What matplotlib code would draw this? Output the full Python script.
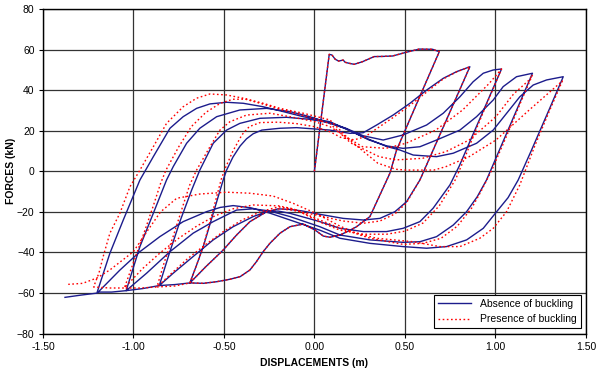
import matplotlib
matplotlib.use("Agg")
import matplotlib.pyplot as plt

plt.rcParams["font.family"] = ["Liberation Sans", "DejaVu Sans"]

# ---- Absence of buckling (blue), branch by branch ----
b_init_x = [0.0, 0.082, 0.097, 0.115, 0.134, 0.159, 0.17, 0.192, 0.22, 0.266, 0.33, 0.38, 0.432, 0.506, 0.579, 0.653, 0.69]
b_init_f = [0.0, 57.6, 57.3, 55.2, 54.3, 54.8, 53.7, 53.2, 52.7, 54.0, 56.5, 56.6, 56.8, 58.6, 60.2, 60.1, 58.9]

b_u1_x = [0.69, 0.62, 0.55, 0.49, 0.454, 0.417, 0.36, 0.307, 0.233, 0.18, 0.141, 0.086, 0.049, 0.003, -0.062, -0.135, -0.19, -0.246, -0.283, -0.32, -0.356, -0.41, -0.467, -0.54, -0.614, -0.688]
b_u1_f = [58.9, 44.6, 30.2, 17.8, 10.4, -1.0, -12.0, -22.3, -27.3, -29.8, -31.4, -32.5, -31.9, -28.9, -26.0, -27.3, -30.5, -35.5, -39.6, -44.5, -48.6, -51.9, -53.2, -54.4, -55.2, -55.0]

b_l2_x = [-0.688, -0.65, -0.614, -0.559, -0.504, -0.485, -0.45, -0.41, -0.375, -0.338, -0.29, -0.19, -0.098, 0.012, 0.086, 0.196, 0.27, 0.344, 0.435, 0.528, 0.62, 0.712, 0.786, 0.859]
b_l2_f = [-55.0, -46.0, -37.1, -20.7, -4.3, 0.6, 7.0, 12.5, 16.0, 18.5, 20.3, 21.2, 21.5, 20.8, 20.3, 18.7, 19.0, 22.8, 27.7, 33.5, 40.0, 45.8, 49.1, 51.5]

b_u2_x = [0.859, 0.80, 0.73, 0.656, 0.583, 0.509, 0.445, 0.362, 0.27, 0.159, 0.03, -0.07, -0.135, -0.2, -0.264, -0.356, -0.43, -0.504, -0.6, -0.688, -0.77, -0.857]
b_u2_f = [51.5, 39.6, 25.4, 10.4, -4.3, -15.0, -19.9, -23.2, -24.0, -23.2, -21.2, -19.5, -18.8, -18.5, -19.9, -24.8, -31.4, -38.8, -47.0, -55.0, -55.8, -56.3]

b_l3_x = [-0.857, -0.8, -0.74, -0.678, -0.633, -0.559, -0.485, -0.412, -0.301, -0.154, -0.025, 0.086, 0.174, 0.27, 0.38, 0.49, 0.62, 0.712, 0.804, 0.877, 0.933, 0.988, 1.034]
b_l3_f = [-56.3, -40.0, -24.0, -9.2, 0.6, 13.8, 20.3, 23.6, 26.1, 26.6, 25.6, 23.9, 21.2, 17.5, 15.4, 17.9, 22.8, 28.6, 36.7, 44.1, 48.3, 49.9, 50.4]

b_u3_x = [1.034, 0.96, 0.88, 0.80, 0.749, 0.656, 0.583, 0.49, 0.399, 0.27, 0.141, 0.03, -0.135, -0.2, -0.26, -0.338, -0.449, -0.559, -0.67, -0.78, -0.857, -0.95, -1.04]
b_u3_f = [50.4, 35.3, 18.9, 2.5, -6.7, -18.2, -24.8, -28.1, -29.7, -29.7, -28.1, -24.8, -20.7, -19.6, -19.8, -22.3, -27.3, -33.8, -42.0, -50.2, -56.3, -57.8, -58.8]

b_l4_x = [-1.04, -0.964, -0.89, -0.817, -0.78, -0.706, -0.633, -0.54, -0.412, -0.264, -0.135, -0.025, 0.086, 0.174, 0.3, 0.4, 0.49, 0.583, 0.675, 0.804, 0.896, 0.988, 1.043, 1.117, 1.205]
b_l4_f = [-58.8, -37.1, -20.7, -4.3, 2.3, 13.8, 21.2, 26.9, 30.2, 31.0, 29.4, 26.9, 23.6, 21.0, 15.5, 12.5, 11.3, 12.1, 15.4, 20.3, 26.9, 35.1, 41.7, 46.6, 48.3]

b_u4_x = [1.205, 1.12, 1.03, 0.951, 0.9, 0.841, 0.767, 0.675, 0.583, 0.49, 0.307, 0.141, 0.03, -0.135, -0.25, -0.34, -0.43, -0.559, -0.67, -0.798, -0.927, -1.04, -1.12, -1.2]
b_u4_f = [48.3, 30.7, 12.0, -4.3, -12.5, -19.9, -26.5, -32.2, -34.7, -35.0, -33.8, -31.4, -27.3, -22.3, -19.5, -18.5, -19.1, -24.8, -30.5, -39.6, -50.2, -58.8, -59.5, -59.5]

b_l5_x = [-1.2, -1.13, -1.056, -0.964, -0.89, -0.798, -0.725, -0.651, -0.577, -0.485, -0.393, -0.283, -0.172, -0.062, 0.086, 0.2, 0.3, 0.4, 0.472, 0.546, 0.675, 0.767, 0.896, 0.988, 1.062, 1.135, 1.209, 1.283, 1.375]
b_l5_f = [-59.5, -40.4, -24.0, -4.3, 7.2, 21.2, 26.9, 31.0, 33.2, 34.0, 33.5, 31.8, 29.4, 26.9, 24.4, 19.8, 15.8, 12.2, 10.5, 8.0, 7.2, 8.9, 13.8, 20.3, 28.6, 36.7, 42.5, 45.0, 46.6]

b_u5_x = [1.375, 1.3, 1.2, 1.126, 1.07, 1.007, 0.933, 0.841, 0.73, 0.62, 0.49, 0.307, 0.141, 0.03, -0.135, -0.25, -0.35, -0.449, -0.52, -0.596, -0.725, -0.854, -0.964, -1.075, -1.2, -1.29, -1.378]
b_u5_f = [46.6, 31.0, 10.5, -4.3, -13.0, -19.9, -28.1, -33.8, -37.1, -37.9, -37.1, -35.5, -33.0, -29.0, -24.0, -20.5, -18.0, -16.9, -17.8, -19.9, -24.8, -32.2, -39.6, -48.7, -60.0, -61.0, -62.1]

# ---- Presence of buckling (red) ----
r_init_x = [0.0, 0.082, 0.097, 0.115, 0.134, 0.159, 0.17, 0.192, 0.22, 0.266, 0.33, 0.38, 0.432, 0.506, 0.579, 0.653, 0.69]
r_init_f = [0.0, 57.6, 57.3, 55.2, 54.3, 54.8, 53.7, 53.2, 52.7, 54.0, 56.5, 56.6, 56.8, 58.6, 60.2, 60.1, 58.9]

r_u1_x = [0.69, 0.62, 0.55, 0.49, 0.454, 0.417, 0.36, 0.307, 0.233, 0.18, 0.141, 0.086, 0.049, 0.003, -0.062, -0.135, -0.19, -0.246, -0.283, -0.32, -0.356, -0.41, -0.467, -0.54, -0.614, -0.688]
r_u1_f = [58.9, 44.6, 30.2, 17.8, 10.4, -1.0, -12.0, -22.3, -27.3, -29.8, -31.4, -32.5, -31.9, -28.9, -26.0, -27.3, -30.5, -35.5, -39.6, -44.5, -48.6, -51.9, -53.2, -54.4, -55.2, -55.0]

r_l2_x = [-0.688, -0.65, -0.614, -0.565, -0.515, -0.49, -0.45, -0.4, -0.36, -0.3, -0.2, -0.1, 0.0, 0.086, 0.15, 0.22, 0.28, 0.344, 0.435, 0.528, 0.62, 0.712, 0.786, 0.859]
r_l2_f = [-55.0, -46.0, -37.0, -21.0, -4.0, 2.0, 10.0, 18.0, 22.0, 24.0, 24.2, 23.5, 22.0, 19.5, 16.5, 15.5, 17.0, 21.0, 26.5, 32.5, 39.0, 45.5, 49.0, 51.5]

r_u2_x = [0.859, 0.80, 0.73, 0.656, 0.583, 0.509, 0.445, 0.362, 0.27, 0.159, 0.03, -0.07, -0.135, -0.2, -0.264, -0.356, -0.43, -0.504, -0.6, -0.688, -0.77, -0.87]
r_u2_f = [51.5, 39.6, 25.4, 10.4, -4.3, -15.5, -21.0, -24.5, -25.6, -24.5, -22.0, -20.0, -19.0, -18.5, -19.9, -24.8, -31.4, -38.8, -47.0, -55.0, -56.5, -57.0]

r_l3_x = [-0.87, -0.83, -0.78, -0.73, -0.69, -0.651, -0.577, -0.522, -0.467, -0.375, -0.246, -0.135, 0.0, 0.086, 0.174, 0.266, 0.395, 0.506, 0.671, 0.819, 0.966, 1.021, 1.034]
r_l3_f = [-57.0, -45.0, -32.0, -18.0, -7.0, 0.6, 12.1, 20.3, 24.4, 27.7, 28.6, 26.9, 24.5, 22.0, 17.0, 12.1, 11.3, 13.8, 20.3, 30.2, 43.3, 49.0, 50.4]

r_u3_x = [1.034, 0.97, 0.9, 0.83, 0.78, 0.69, 0.6, 0.5, 0.4, 0.27, 0.141, 0.03, -0.1, -0.2, -0.3, -0.4, -0.5, -0.6, -0.7, -0.78, -0.87, -0.96, -1.05]
r_u3_f = [50.4, 37.0, 22.0, 6.5, -4.0, -17.0, -25.5, -29.5, -31.0, -31.0, -29.0, -25.0, -19.0, -17.5, -20.0, -24.0, -29.5, -36.0, -43.0, -49.5, -57.0, -57.5, -57.5]

r_l4_x = [-1.05, -1.0, -0.94, -0.89, -0.85, -0.82, -0.75, -0.68, -0.6, -0.52, -0.45, -0.38, -0.28, -0.19, -0.062, 0.086, 0.2, 0.358, 0.45, 0.598, 0.727, 0.855, 1.003, 1.1, 1.187, 1.205]
r_l4_f = [-57.5, -45.0, -30.0, -17.0, -6.0, 0.6, 12.0, 22.0, 29.0, 33.5, 35.5, 35.5, 33.0, 30.5, 27.5, 23.5, 14.0, 7.2, 5.6, 6.4, 9.7, 15.4, 26.9, 38.0, 45.0, 47.5]

r_u4_x = [1.205, 1.14, 1.06, 0.98, 0.92, 0.87, 0.79, 0.7, 0.6, 0.49, 0.307, 0.141, 0.003, -0.117, -0.2, -0.338, -0.45, -0.55, -0.65, -0.75, -0.85, -0.95, -1.05, -1.13, -1.22]
r_u4_f = [47.5, 34.0, 17.0, 0.5, -10.0, -18.0, -27.0, -33.0, -35.5, -36.0, -33.0, -28.0, -23.0, -18.5, -17.0, -16.6, -18.5, -22.0, -27.0, -33.0, -40.0, -48.0, -57.5, -57.5, -57.0]

r_l5_x = [-1.22, -1.19, -1.167, -1.13, -1.075, -1.019, -0.964, -0.89, -0.817, -0.725, -0.651, -0.577, -0.485, -0.393, -0.283, -0.19, -0.062, 0.086, 0.2, 0.35, 0.45, 0.506, 0.66, 0.727, 0.855, 1.003, 1.187, 1.37]
r_l5_f = [-57.0, -50.0, -42.0, -30.5, -20.7, -7.6, 0.6, 12.1, 23.6, 31.8, 36.0, 38.1, 37.6, 36.0, 33.5, 31.0, 28.6, 25.3, 15.0, 4.0, 1.0, 0.6, 0.6, 2.3, 7.2, 15.4, 30.2, 44.5]

r_u5_x = [1.37, 1.3, 1.22, 1.135, 1.062, 0.988, 0.914, 0.804, 0.693, 0.546, 0.344, 0.233, 0.141, 0.003, -0.117, -0.228, -0.356, -0.485, -0.633, -0.761, -0.85, -0.92, -1.0, -1.13, -1.2, -1.28, -1.36]
r_u5_f = [44.5, 30.0, 13.0, -6.7, -19.9, -28.1, -33.0, -37.1, -37.1, -34.7, -33.0, -30.5, -27.0, -20.5, -15.8, -12.2, -10.8, -10.3, -11.2, -13.3, -20.0, -29.0, -39.6, -48.6, -52.5, -55.2, -55.7]

x_ticks = [-1.5, -1.0, -0.5, 0.0, 0.5, 1.0, 1.5]
y_ticks = [-80, -60, -40, -20, 0, 20, 40, 60, 80]

blue_x = b_init_x + b_u1_x + b_l2_x + b_u2_x + b_l3_x + b_u3_x + b_l4_x + b_u4_x + b_l5_x + b_u5_x
blue_f = b_init_f + b_u1_f + b_l2_f + b_u2_f + b_l3_f + b_u3_f + b_l4_f + b_u4_f + b_l5_f + b_u5_f
red_x = r_init_x + r_u1_x + r_l2_x + r_u2_x + r_l3_x + r_u3_x + r_l4_x + r_u4_x + r_l5_x + r_u5_x
red_f = r_init_f + r_u1_f + r_l2_f + r_u2_f + r_l3_f + r_u3_f + r_l4_f + r_u4_f + r_l5_f + r_u5_f

fig = plt.figure(figsize=(5.96, 3.71), dpi=100)
ax = fig.add_axes([0.072, 0.1006, 0.911, 0.8754])

ax.plot(blue_x, blue_f, color="#1c1c8c", lw=1.0, label="Absence of buckling", zorder=3)
ax.plot(red_x, red_f, color="red", lw=1.0, ls=(0, (1.2, 1.8)), label="Presence of buckling", zorder=4)

ax.set_xlim(-1.5, 1.5)
ax.set_ylim(-80, 80)
ax.set_xticks(x_ticks)
ax.set_yticks(y_ticks)
ax.set_xticklabels([f"{v:.2f}" for v in x_ticks])
ax.grid(True, color="#333333", lw=0.9)
ax.set_axisbelow(True)
ax.tick_params(labelsize=7.5, length=3, width=0.8, color="black", pad=3)
for s in ax.spines.values():
    s.set_linewidth(1.0)

ax.set_xlabel("DISPLACEMENTS (m)", fontsize=7.5, fontweight="bold", labelpad=4)
ax.set_ylabel("FORCES (kN)", fontsize=7.5, fontweight="bold", labelpad=1)

leg = ax.legend(loc="lower right", fontsize=7.5, fancybox=False, framealpha=1,
                edgecolor="black", handlelength=3.2, borderaxespad=0.5, labelspacing=0.5)
leg.get_frame().set_linewidth(0.8)

fig.savefig("out.png", dpi=100)
